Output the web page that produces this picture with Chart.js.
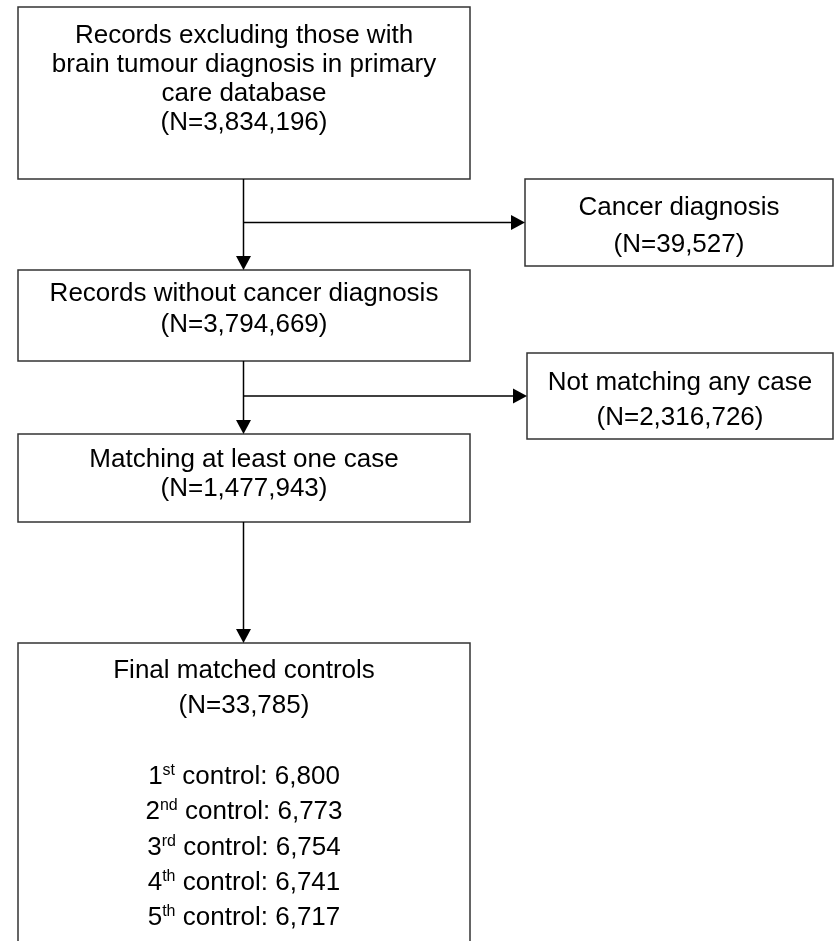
<!DOCTYPE html>
<html>
<head>
<meta charset="utf-8">
<script src="https://cdn.jsdelivr.net/npm/chart.js@4.4.1/dist/chart.umd.min.js"></script>
<style>
  html, body { margin: 0; padding: 0; background: #fff; }
  #wrap { width: 834px; height: 941px; }
</style>
</head>
<body>
<div id="wrap"><canvas id="flowChart" width="834" height="941"></canvas></div>
<script>
// Data
const stepTitles = [
    ['Records excluding those with', 'brain tumour diagnosis in primary', 'care database'],
    ['Cancer diagnosis'],
    ['Records without cancer diagnosis'],
    ['Not matching any case'],
    ['Matching at least one case'],
    ['Final matched controls']
];
const stepCounts = [3834196, 39527, 3794669, 2316726, 1477943, 33785];
const controlRanks = [1, 2, 3, 4, 5];
const controlSuffixes = ['st', 'nd', 'rd', 'th', 'th'];
const controlCounts = [6800, 6773, 6754, 6741, 6717];
// links between steps: [from, to]
const flowLinks = [[0, 2], [0, 1], [2, 4], [2, 3], [4, 5]];

// Layout (chart units, one unit = one pixel)
const boxLayout = [
    { x0: 18, x1: 470, y0: 7, y1: 179, first: 36, lh: 29 },
    { x0: 525, x1: 833, y0: 179, y1: 266, first: 36, lh: 37 },
    { x0: 18, x1: 470, y0: 270, y1: 361, first: 31, lh: 31 },
    { x0: 527, x1: 833, y0: 353, y1: 439, first: 37, lh: 35 },
    { x0: 18, x1: 470, y0: 434, y1: 522, first: 33, lh: 29 },
    { x0: 18, x1: 470, y0: 643, y1: 960, first: 35, lh: 35.3 }
];
const spineX = 243.5;
const FONT = '"Liberation Sans", Arial, sans-serif';

const fmt = n => n.toLocaleString('en-US');

const FlowDrawer = {
    arrowHead(ctx, tipX, tipY, dir) {
        const len = 14, half = 7.5;
        ctx.beginPath();
        ctx.moveTo(tipX, tipY);
        if (dir === 'down') {
            ctx.lineTo(tipX - half, tipY - len);
            ctx.lineTo(tipX + half, tipY - len);
        } else {
            ctx.lineTo(tipX - len, tipY - half);
            ctx.lineTo(tipX - len, tipY + half);
        }
        ctx.closePath();
        ctx.fill();
    },

    controlLine(ctx, cx, baseY, i) {
        const big = '26px ' + FONT, small = '16px ' + FONT;
        const rank = String(controlRanks[i]);
        const sup = controlSuffixes[i];
        const rest = ' control: ' + fmt(controlCounts[i]);
        ctx.font = big;
        const w1 = ctx.measureText(rank).width;
        const w3 = ctx.measureText(rest).width;
        ctx.font = small;
        const w2 = ctx.measureText(sup).width;
        let xPos = cx - (w1 + w2 + w3) / 2;
        ctx.textAlign = 'left';
        ctx.font = big;
        ctx.fillText(rank, xPos, baseY);
        xPos += w1;
        ctx.font = small;
        ctx.fillText(sup, xPos, baseY - 9);
        xPos += w2;
        ctx.font = big;
        ctx.fillText(rest, xPos, baseY);
    }
};

const flowPlugin = {
    id: 'flowPlugin',
    afterDraw(chart) {
        const { ctx, scales: { x, y } } = chart;
        const px = v => x.getPixelForValue(v);
        const py = v => y.getPixelForValue(v);
        ctx.save();

        // boxes and their text
        boxLayout.forEach((b, i) => {
            const l = px(b.x0), r = px(b.x1), t = py(b.y0), btm = py(b.y1);
            ctx.strokeStyle = '#333';
            ctx.lineWidth = 1.5;
            ctx.strokeRect(l, t, r - l, btm - t);

            const cx = (l + r) / 2;
            const lines = stepTitles[i].concat(['(N=' + fmt(stepCounts[i]) + ')']);
            ctx.fillStyle = '#000';
            ctx.textAlign = 'center';
            ctx.textBaseline = 'alphabetic';
            ctx.font = '26px ' + FONT;
            lines.forEach((txt, k) => {
                ctx.fillText(txt, cx, t + b.first + k * b.lh);
            });
            if (i === stepTitles.length - 1) {
                controlCounts.forEach((_, k) => {
                    FlowDrawer.controlLine(ctx, cx, t + b.first + (lines.length + 1 + k) * b.lh, k);
                });
            }
        });

        // connectors
        ctx.strokeStyle = '#000';
        ctx.fillStyle = '#000';
        ctx.lineWidth = 1.5;
        flowLinks.forEach(([from, to]) => {
            const a = boxLayout[from], b = boxLayout[to];
            ctx.beginPath();
            if (b.x0 > a.x1) {
                const yMid = py((b.y0 + b.y1) / 2);
                ctx.moveTo(px(spineX), yMid);
                ctx.lineTo(px(b.x0) - 12, yMid);
                ctx.stroke();
                FlowDrawer.arrowHead(ctx, px(b.x0), yMid, 'right');
            } else {
                ctx.moveTo(px(spineX), py(a.y1));
                ctx.lineTo(px(spineX), py(b.y0) - 12);
                ctx.stroke();
                FlowDrawer.arrowHead(ctx, px(spineX), py(b.y0), 'down');
            }
        });
        ctx.restore();
    }
};

const ctx = document.getElementById('flowChart').getContext('2d');
new Chart(ctx, {
    type: 'scatter',
    data: { datasets: [{ data: [] }] },
    options: {
        responsive: false,
        animation: false,
        devicePixelRatio: 1,
        layout: { padding: 0 },
        plugins: { legend: { display: false }, tooltip: { enabled: false } },
        scales: {
            x: { type: 'linear', min: 0, max: 834, display: false },
            y: { type: 'linear', min: 0, max: 941, reverse: true, display: false }
        }
    },
    plugins: [flowPlugin]
});
</script>
</body>
</html>
